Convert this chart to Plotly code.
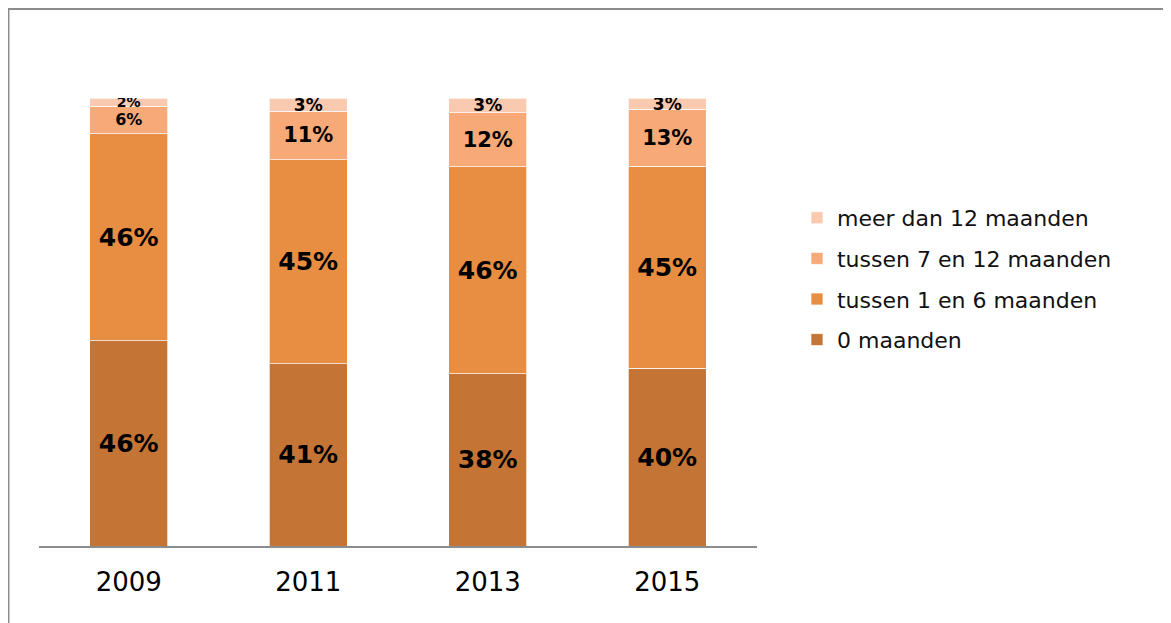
import plotly.graph_objects as go

years = ["2009", "2011", "2013", "2015"]

# share of respondents per duration (%)
pct_0 = [45.8, 40.6, 38.4, 39.7]
pct_1_6 = [46.2, 45.5, 46.2, 45.1]
pct_7_12 = [6.2, 10.9, 12.0, 12.7]
pct_12_plus = [1.8, 2.9, 3.3, 2.5]

# labels as printed on the bars
lbl_0 = ["46%", "41%", "38%", "40%"]
lbl_1_6 = ["46%", "45%", "46%", "45%"]
lbl_7_12 = ["6%", "11%", "12%", "13%"]
lbl_12_plus = ["2%", "3%", "3%", "3%"]

series = [
    ("0 maanden", pct_0, lbl_0, "#C47535", [25, 25, 25, 25], 4),
    ("tussen 1 en 6 maanden", pct_1_6, lbl_1_6, "#E88E42", [25, 25, 25, 25], 3),
    ("tussen 7 en 12 maanden", pct_7_12, lbl_7_12, "#F8A978", [16, 21, 21, 21], 2),
    ("meer dan 12 maanden", pct_12_plus, lbl_12_plus, "#F9C9B0", [14, 17, 17, 17], 1),
]

fig = go.Figure()
for i, (name, vals, lbls, col, fs, rank) in enumerate(series):
    fig.add_trace(go.Bar(
        x=years, y=vals, name=name, text=lbls,
        textposition="inside", insidetextanchor="middle",
        textangle=0, constraintext="none",
        textfont=dict(family="DejaVu Sans", size=fs, color="black", weight="bold"),
        marker=dict(color=col, line=dict(color="rgba(255,255,255,0.7)", width=1)),
        legendgroup=str(i), legendrank=rank, hoverinfo="skip",
    ))

# thin grey frame around the chart (top and left edges visible)
fig.add_shape(type="rect", xref="paper", yref="paper",
              x0=-0.0425, x1=1.6, y0=-0.3, y1=1.1987,
              line=dict(color="#8C8C8C", width=2), fillcolor="rgba(0,0,0,0)", layer="below")

fig.update_layout(
    width=1171, height=623,
    barmode="stack", barnorm="percent", bargap=0.565,
    margin=dict(l=31, r=422, t=90, b=85),
    paper_bgcolor="white", plot_bgcolor="white",
    font=dict(family="DejaVu Sans", color="black"),
    showlegend=True,
    legend=dict(
        x=1.0557, xanchor="left", y=0.596, yanchor="middle",
        traceorder="grouped", tracegroupgap=9,
        font=dict(size=22, color="#111111"),
        bgcolor="rgba(0,0,0,0)",
    ),
    xaxis=dict(
        showline=True, linecolor="#8C8C8C", linewidth=2,
        showgrid=False, ticks="", ticklabelstandoff=12,
        tickfont=dict(size=26, color="black"),
    ),
    yaxis=dict(range=[0, 100], visible=False, showgrid=False),
)

fig.write_html("out.html")
